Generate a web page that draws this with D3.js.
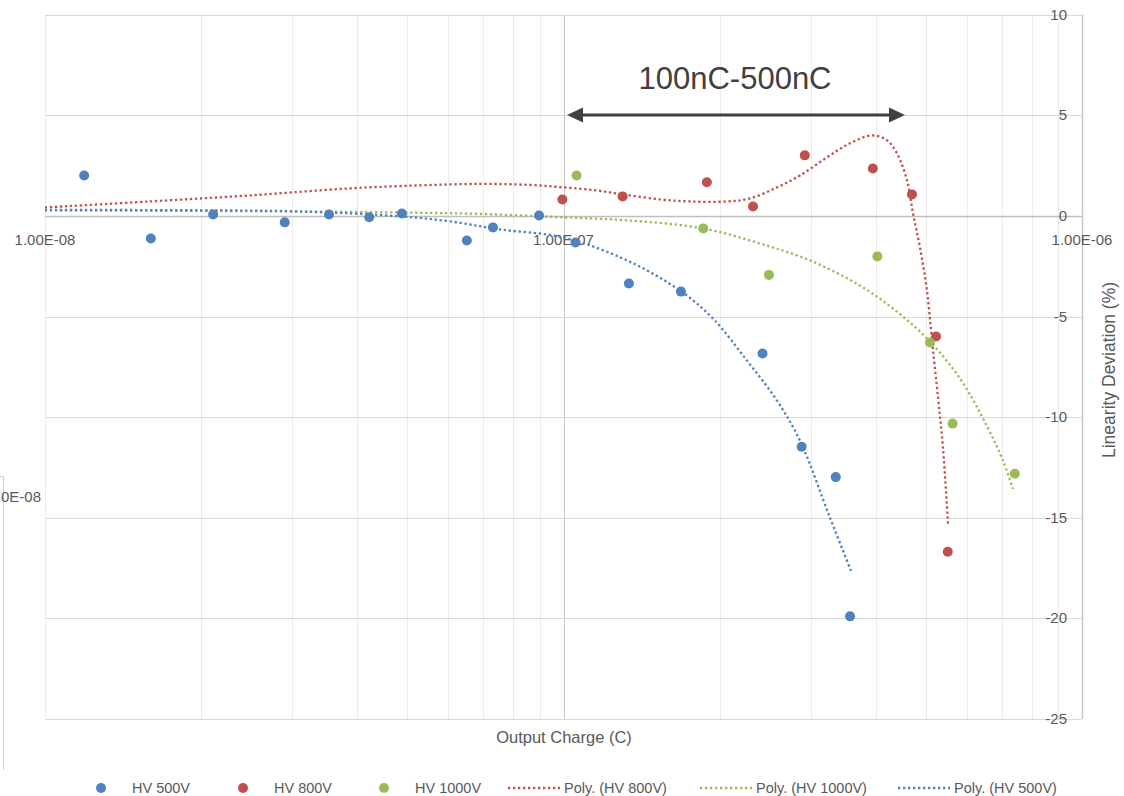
<!DOCTYPE html>
<html>
<head>
<meta charset="utf-8">
<script src="https://cdn.jsdelivr.net/npm/d3@7"></script>
<style>
  html, body { margin: 0; padding: 0; background: #fff; }
  svg { display: block; }
  text { font-family: "Liberation Sans", Arial, sans-serif; fill: #595959; }
</style>
</head>
<body>
<svg id="chart" width="1124" height="796"></svg>
<script>
// Measured points: [output charge (C), linearity deviation (%)]
const hv500 = [
  [1.19e-8, 2.01], [1.60e-8, -1.12], [2.11e-8, 0.07], [2.90e-8, -0.32],
  [3.53e-8, 0.07], [4.22e-8, -0.07], [4.88e-8, 0.12], [6.51e-8, -1.22],
  [7.31e-8, -0.57], [8.97e-8, 0.02], [1.055e-7, -1.32], [1.337e-7, -3.36],
  [1.685e-7, -3.76], [2.42e-7, -6.84], [2.88e-7, -11.47], [3.35e-7, -12.98],
  [3.57e-7, -19.9]
];
const hv800 = [
  [9.95e-8, 0.82], [1.30e-7, 0.97], [1.89e-7, 1.67], [2.32e-7, 0.47],
  [2.92e-7, 3.01], [3.95e-7, 2.36], [4.70e-7, 1.07], [5.23e-7, -5.99],
  [5.51e-7, -16.69]
];
const hv1000 = [
  [1.06e-7, 2.01], [1.86e-7, -0.62], [2.49e-7, -2.93], [4.03e-7, -2.01],
  [5.09e-7, -6.29], [5.63e-7, -10.32], [7.42e-7, -12.81]
];

// Polynomial trendlines, sampled along each curve
const polyHv800 = [
  [1.00e-8, 0.42], [1.594e-8, 0.72], [2.486e-8, 1.02], [3.875e-8, 1.37],
  [5.29e-8, 1.52], [6.90e-8, 1.59], [8.62e-8, 1.54], [9.98e-8, 1.42],
  [1.140e-7, 1.29], [1.302e-7, 1.07], [1.535e-7, 0.82], [1.754e-7, 0.72],
  [2.067e-7, 0.72], [2.289e-7, 0.87], [2.581e-7, 1.42], [2.858e-7, 2.01],
  [3.222e-7, 2.91], [3.569e-7, 3.61], [3.936e-7, 4.00], [4.206e-7, 3.76],
  [4.397e-7, 3.11], [4.597e-7, 1.77], [4.721e-7, 0.12], [4.870e-7, -1.57],
  [5.024e-7, -3.71], [5.137e-7, -6.19], [5.276e-7, -9.03], [5.394e-7, -11.52],
  [5.515e-7, -15.30]
];
const polyHv1000 = [
  [1.00e-8, 0.27], [1.99e-8, 0.25], [3.10e-8, 0.22], [4.84e-8, 0.17],
  [6.90e-8, 0.10], [9.98e-8, -0.07], [1.326e-7, -0.22], [1.858e-7, -0.62],
  [2.393e-7, -1.37], [2.988e-7, -2.21], [3.730e-7, -3.46], [4.320e-7, -4.60],
  [5.024e-7, -6.09], [5.817e-7, -8.08], [6.558e-7, -10.45], [7.04e-7, -12.16],
  [7.36e-7, -13.56]
];
const polyHv500 = [
  [1.00e-8, 0.30], [1.99e-8, 0.28], [3.10e-8, 0.22], [4.84e-8, -0.02],
  [6.04e-8, -0.27], [7.54e-8, -0.67], [9.98e-8, -1.07], [1.326e-7, -2.21],
  [1.678e-7, -3.71], [1.942e-7, -5.10], [2.259e-7, -7.19], [2.581e-7, -9.18],
  [2.858e-7, -11.17], [3.266e-7, -15.00], [3.585e-7, -17.64]
];

const xDomain = [1e-8, 1e-6];
const yDomain = [-25, 10];
const yTicks = [-25, -20, -15, -10, -5, 0, 5, 10];
const xTickValues = [1e-8, 1e-7, 1e-6];
const xTickLabels = ["1.00E-08", "1.00E-07", "1.00E-06"];
const rangeLabel = "100nC-500nC";

const colors = { hv500: "#4f81bd", hv800: "#c0504d", hv1000: "#9bbb59" };

const svg = d3.select("#chart");
const plotLeft = 45, plotRight = 1082, plotTop = 14.7, plotBottom = 719;

const x = d3.scaleLog().domain(xDomain).range([plotLeft, plotRight]);
const y = d3.scaleLinear().domain(yDomain).range([plotBottom, plotTop]);

// Fragment of a neighbouring chart at the left edge
svg.append("path")
  .attr("d", "M0,476.5H3.5V770")
  .attr("fill", "none").attr("stroke", "#d0d0d0").attr("stroke-width", 1);
svg.append("text").attr("x", 1).attr("y", 502)
  .style("font-size", "15px")
  .text("0E-08");

// Vertical log gridlines (every 1..9 x decade)
const minorTicks = [];
for (let e = -8; e < -6; e++) {
  for (let m = 1; m <= 9; m++) minorTicks.push(m * Math.pow(10, e));
}
minorTicks.push(1e-6);
svg.append("g").selectAll("line").data(minorTicks).join("line")
  .attr("x1", d => Math.round(x(d)) + 0.5).attr("x2", d => Math.round(x(d)) + 0.5)
  .attr("y1", plotTop).attr("y2", plotBottom)
  .attr("stroke", d => (Math.abs(d - 1e-7) < 1e-12 ? "#c6c6c6" : "#ebebeb"))
  .attr("stroke-width", 1);

// Horizontal gridlines
svg.append("g").selectAll("line").data(yTicks).join("line")
  .attr("x1", plotLeft).attr("x2", plotRight)
  .attr("y1", d => Math.round(y(d)) + 0.5).attr("y2", d => Math.round(y(d)) + 0.5)
  .attr("stroke", d => (d === 0 ? "#bfbfbf" : "#d9d9d9"))
  .attr("stroke-width", d => (d === 0 ? 1.5 : 1));

// Right value axis line
svg.append("line")
  .attr("x1", plotRight + 0.5).attr("x2", plotRight + 0.5)
  .attr("y1", plotTop).attr("y2", plotBottom)
  .attr("stroke", "#c8c8c8").attr("stroke-width", 1.5);

// Y tick labels, drawn just inside the right axis
svg.append("g").selectAll("text").data(yTicks).join("text")
  .attr("x", plotRight - 15).attr("y", d => y(d) + 5)
  .attr("text-anchor", "end").style("font-size", "15px")
  .text(d => d);

// X tick labels under the zero line
svg.append("g").selectAll("text").data(xTickValues).join("text")
  .attr("x", d => x(d)).attr("y", y(0) + 29)
  .attr("text-anchor", "middle").style("font-size", "15px")
  .text((d, i) => xTickLabels[i]);

// Axis titles
svg.append("text").attr("x", 564).attr("y", 743)
  .attr("text-anchor", "middle").style("font-size", "16.5px")
  .text("Output Charge (C)");
svg.append("text")
  .attr("transform", "translate(1115,370) rotate(-90)")
  .attr("text-anchor", "middle").style("font-size", "17.5px")
  .text("Linearity Deviation (%)");

// Trendlines
const line = d3.line().x(d => x(d[0])).y(d => y(d[1])).curve(d3.curveCatmullRom.alpha(0.5));
const trends = [
  { data: polyHv800, color: colors.hv800 },
  { data: polyHv1000, color: colors.hv1000 },
  { data: polyHv500, color: colors.hv500 }
];
svg.append("g").selectAll("path").data(trends).join("path")
  .attr("d", d => line(d.data))
  .attr("fill", "none").attr("stroke", d => d.color)
  .attr("stroke-width", 2.3).attr("stroke-dasharray", "2.3 2.7");

// Scatter markers
const series = [
  { data: hv500, color: colors.hv500 },
  { data: hv800, color: colors.hv800 },
  { data: hv1000, color: colors.hv1000 }
];
series.forEach(s => {
  svg.append("g").selectAll("circle").data(s.data).join("circle")
    .attr("cx", d => x(d[0])).attr("cy", d => y(d[1])).attr("r", 5)
    .attr("fill", s.color);
});

// Range annotation: double-headed arrow with label
const ann = svg.append("g");
const ay = 115, ax1 = 567, ax2 = 905;
ann.append("line").attr("x1", ax1 + 12).attr("x2", ax2 - 12)
  .attr("y1", ay).attr("y2", ay).attr("stroke", "#404040").attr("stroke-width", 3.2);
ann.append("path").attr("d", `M${ax1},${ay}L${ax1 + 16},${ay - 7.5}L${ax1 + 16},${ay + 7.5}Z`)
  .attr("fill", "#404040");
ann.append("path").attr("d", `M${ax2},${ay}L${ax2 - 16},${ay - 7.5}L${ax2 - 16},${ay + 7.5}Z`)
  .attr("fill", "#404040");
ann.append("text").attr("x", 735).attr("y", 89)
  .attr("text-anchor", "middle").style("font-size", "31px").style("fill", "#404040")
  .text(rangeLabel);

// Legend
const legend = svg.append("g");
const ly = 788;
const markerItems = [
  { label: "HV 500V", color: colors.hv500, mx: 101 },
  { label: "HV 800V", color: colors.hv800, mx: 243 },
  { label: "HV 1000V", color: colors.hv1000, mx: 384 }
];
markerItems.forEach(it => {
  legend.append("circle").attr("cx", it.mx).attr("cy", ly).attr("r", 5).attr("fill", it.color);
  legend.append("text").attr("x", it.mx + 31).attr("y", ly + 5)
    .style("font-size", "14.5px").text(it.label);
});
const lineItems = [
  { label: "Poly. (HV 800V)", color: colors.hv800, lx: 508 },
  { label: "Poly. (HV 1000V)", color: colors.hv1000, lx: 700 },
  { label: "Poly. (HV 500V)", color: colors.hv500, lx: 898 }
];
lineItems.forEach(it => {
  legend.append("line").attr("x1", it.lx).attr("x2", it.lx + 52)
    .attr("y1", ly).attr("y2", ly)
    .attr("stroke", it.color).attr("stroke-width", 2.3).attr("stroke-dasharray", "2.3 2.7");
  legend.append("text").attr("x", it.lx + 56).attr("y", ly + 5)
    .style("font-size", "14.5px").text(it.label);
});
</script>
</body>
</html>
